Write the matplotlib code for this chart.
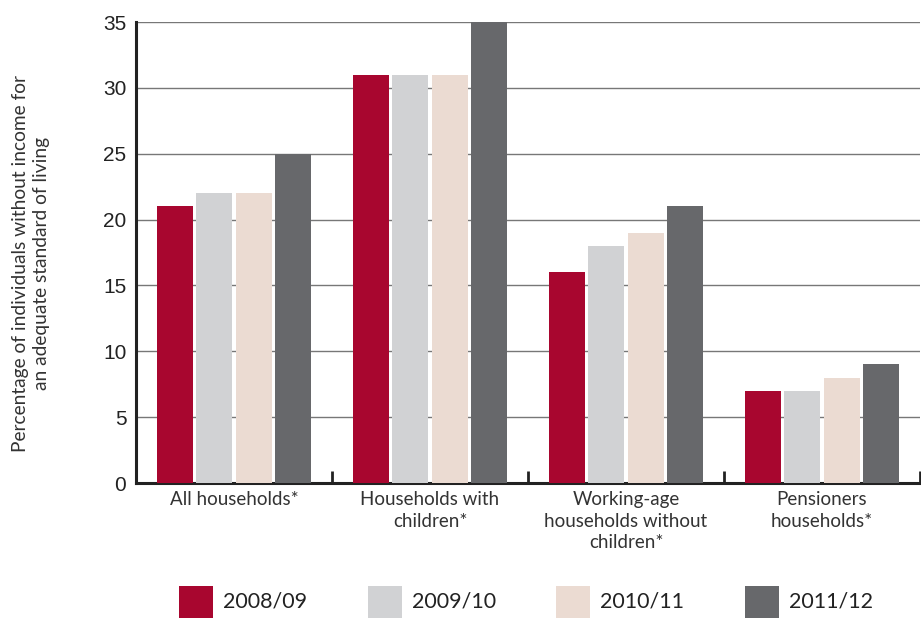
import matplotlib
matplotlib.use("Agg")
import matplotlib.pyplot as plt
from matplotlib.patches import Rectangle
import numpy as np

categories = ["All households*", "Households with\nchildren*",
              "Working-age\nhouseholds without\nchildren*", "Pensioners\nhouseholds*"]
years = ["2008/09", "2009/10", "2010/11", "2011/12"]
values = {
    "2008/09": [21, 31, 16, 7],
    "2009/10": [22, 31, 18, 7],
    "2010/11": [22, 31, 19, 8],
    "2011/12": [25, 35, 21, 9],
}
colors = ["#A8062F", "#D1D2D4", "#EBDBD2", "#67686B"]
yticks = [0, 5, 10, 15, 20, 25, 30, 35]

W, H = 921, 618
fig = plt.figure(figsize=(W / 100, H / 100), dpi=100)
ax = fig.add_axes([0.1477, 0.2184, 0.8512, 0.746])

x = np.arange(len(categories))
bw = 0.184
step = 0.2
for i, (yr, c) in enumerate(zip(years, colors)):
    ax.bar(x + (i - 1.5) * step, values[yr], width=bw, color=c, zorder=3)

ax.set_xlim(-0.5, len(categories) - 0.5)
ax.set_ylim(0, 35)
ax.set_yticks(yticks)
ax.set_yticklabels([str(t) for t in yticks], fontsize=15, family="Liberation Sans", color="#222222")
ax.tick_params(axis="y", length=0, pad=7)
ax.yaxis.grid(True, color="#777777", linewidth=1.0, zorder=0)
ax.set_axisbelow(True)

# group boundary ticks pointing up from the baseline
ax.set_xticks(np.arange(len(categories)) + 0.5)
ax.set_xticklabels([])
ax.tick_params(axis="x", direction="in", length=9, width=2, color="#222222")
for xi, lab in zip(x, categories):
    ax.text(xi, -0.62, lab, ha="center", va="top", fontsize=13.5, family="Lato",
            color="#333333", linespacing=1.33)

for s in ["top", "right"]:
    ax.spines[s].set_visible(False)
for s in ["left", "bottom"]:
    ax.spines[s].set_linewidth(2.2)
    ax.spines[s].set_color("#222222")

fig.text(0.0337, 0.574, "Percentage of individuals without income for\nan adequate standard of living",
         rotation=90, ha="center", va="center", fontsize=13.8, family="Lato",
         color="#333333", linespacing=1.22)

# legend: swatch + label per year, laid out along the bottom edge
legend_x = [179, 368, 556, 745]
for lx, yr, c in zip(legend_x, years, colors):
    fig.add_artist(Rectangle((lx / W, 0), 34 / W, 32 / H, transform=fig.transFigure,
                             facecolor=c, edgecolor="none"))
    fig.text((lx + 44) / W, 16 / H, yr, ha="left", va="center", fontsize=15.5,
             family="Lato", color="#222222")

fig.savefig("out.png", dpi=100)
